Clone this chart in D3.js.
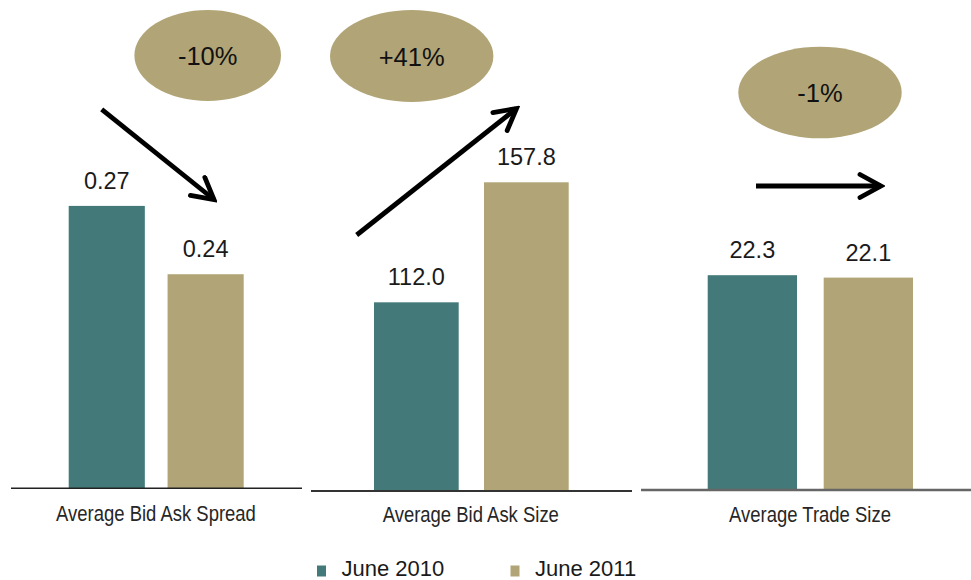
<!DOCTYPE html>
<html>
<head>
<meta charset="utf-8">
<script src="https://cdn.jsdelivr.net/npm/d3@7"></script>
<style>
  html, body { margin: 0; padding: 0; background: #ffffff; }
  svg { display: block; }
  text { font-family: "Liberation Sans", Arial, sans-serif; }
</style>
</head>
<body>
<svg id="chart" width="971" height="580"></svg>
<script>
// ---- data ----
const categories = ["Average Bid Ask Spread", "Average Bid Ask Size", "Average Trade Size"];
const seriesNames = ["June 2010", "June 2011"];
const values2010 = [0.27, 112.0, 22.3];
const values2011 = [0.24, 157.8, 22.1];
const changeLabels = ["-10%", "+41%", "-1%"];
const valueFormats = [".2f", ".1f", ".1f"];
const yDomains = [[0.146, 0.3165], [40, 189.2], [4.4, 36.9]];

// ---- styling / layout ----
const colors = ["#437a79", "#b1a577"];
const panels = [
  { x0: 11, x1: 302, base: 488.3, barRange: [68.7, 243.7], lineColor: "#222", lineW: 1.4,
    ellipse: { cx: 207.7, cy: 55.5, rx: 73.3, ry: 45.5 }, arrow: [[101.7, 109.3], [214, 199.5]],
    label: { x: 156, y: 521 } },
  { x0: 311, x1: 632, base: 491, barRange: [374, 568.7], lineColor: "#333", lineW: 2,
    ellipse: { cx: 411.7, cy: 56, rx: 81.7, ry: 46 }, arrow: [[356.7, 235], [516.5, 108.5]],
    label: { x: 470.8, y: 522 } },
  { x0: 641, x1: 971, base: 490, barRange: [707.7, 913], lineColor: "#666", lineW: 2.5,
    ellipse: { cx: 820, cy: 92.5, rx: 81.7, ry: 45.8 }, arrow: [[756, 186], [881, 186]],
    label: { x: 810, y: 522 } }
];
const yTop = 100;

const svg = d3.select("#chart");

svg.append("defs").append("marker")
  .attr("id", "head")
  .attr("markerUnits", "userSpaceOnUse")
  .attr("viewBox", "-26 -14 30 28")
  .attr("markerWidth", 30).attr("markerHeight", 28)
  .attr("refX", 0).attr("refY", 0)
  .attr("orient", "auto")
  .append("path")
  .attr("d", "M-21,-11.5 L0,0 L-21,11.5")
  .attr("fill", "none").attr("stroke", "#000").attr("stroke-width", 4.8)
  .attr("stroke-linecap", "round").attr("stroke-linejoin", "miter");

panels.forEach((p, i) => {
  const g = svg.append("g");
  const x = d3.scaleBand().domain(seriesNames).range(p.barRange).paddingInner(0.23).paddingOuter(0);
  const y = d3.scaleLinear().domain(yDomains[i]).range([p.base, yTop]);
  const vals = [values2010[i], values2011[i]];
  const fmt = d3.format(valueFormats[i]);

  g.selectAll("rect").data(vals).join("rect")
    .attr("x", (d, j) => x(seriesNames[j]))
    .attr("width", x.bandwidth())
    .attr("y", d => y(d))
    .attr("height", d => p.base - y(d))
    .attr("fill", (d, j) => colors[j]);

  g.selectAll("text.val").data(vals).join("text")
    .attr("class", "val")
    .attr("x", (d, j) => x(seriesNames[j]) + x.bandwidth() / 2)
    .attr("y", d => y(d) - 17)
    .attr("text-anchor", "middle")
    .attr("font-size", 23.5)
    .attr("fill", "#1a1a1a")
    .text(d => fmt(d));

  g.append("line")
    .attr("x1", p.x0).attr("x2", p.x1)
    .attr("y1", p.base).attr("y2", p.base)
    .attr("stroke", p.lineColor).attr("stroke-width", p.lineW);

  g.append("text")
    .attr("transform", `translate(${p.label.x},${p.label.y}) scale(0.84,1)`)
    .attr("text-anchor", "middle")
    .attr("font-size", 22)
    .attr("fill", "#262626")
    .text(categories[i]);

  g.append("ellipse")
    .attr("cx", p.ellipse.cx).attr("cy", p.ellipse.cy)
    .attr("rx", p.ellipse.rx).attr("ry", p.ellipse.ry)
    .attr("fill", colors[1]);

  g.append("text")
    .attr("x", p.ellipse.cx).attr("y", p.ellipse.cy + 9.5)
    .attr("text-anchor", "middle")
    .attr("font-size", 25.5)
    .attr("fill", "#111")
    .text(changeLabels[i]);

  g.append("line")
    .attr("x1", p.arrow[0][0]).attr("y1", p.arrow[0][1])
    .attr("x2", p.arrow[1][0]).attr("y2", p.arrow[1][1])
    .attr("stroke", "#000").attr("stroke-width", 4.8)
    .attr("marker-end", "url(#head)");
});

// legend
const legendX = [317, 510.5];
const leg = svg.append("g");
seriesNames.forEach((s, j) => {
  leg.append("rect")
    .attr("x", legendX[j]).attr("y", 565.5)
    .attr("width", 9).attr("height", 11)
    .attr("fill", colors[j]);
  leg.append("text")
    .attr("x", legendX[j] + 24.5).attr("y", 576)
    .attr("font-size", 22)
    .attr("fill", "#1a1a1a")
    .text(s);
});
</script>
</body>
</html>
